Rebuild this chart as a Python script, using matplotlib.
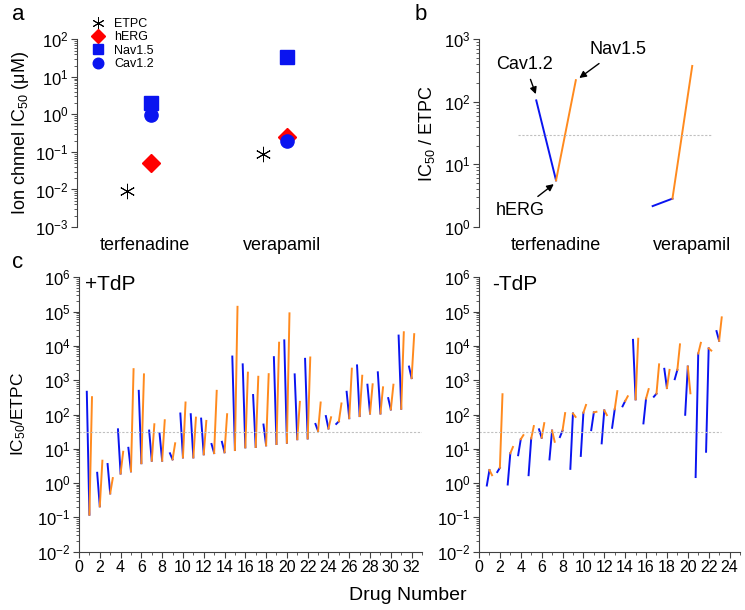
import numpy as np
import matplotlib
matplotlib.use("Agg")
import matplotlib.pyplot as plt
from matplotlib.ticker import LogLocator, MultipleLocator, NullFormatter

plt.rcParams['font.family'] = ['Liberation Sans', 'DejaVu Sans']
plt.rcParams['mathtext.fontset'] = 'custom'
plt.rcParams['mathtext.rm'] = 'Liberation Sans'
plt.rcParams['mathtext.it'] = 'Liberation Sans:italic'
plt.rcParams['mathtext.bf'] = 'Liberation Sans:bold'
plt.rcParams['mathtext.default'] = 'regular'

# panel a: IC50 (uM) of the two example drugs
drugs = ["terfenadine", "verapamil"]
etpc = [0.009, 0.088]
herg = [0.05, 0.25]
nav15 = [2.0, 33]
cav12 = [0.95, 0.19]

# panel c: IC50/ETPC for each drug, +TdP group
pos_cav = [460, 2.0, 3.6, 37, 10.7, 490, 34, 28, 7.4, 107, 102, 76, 13.8, 16, 4900, 2900,
           370, 51, 4700, 14500, 1480, 4200, 53, 90, 53, 460, 2700, 740, 1700, 300, 20000, 2500]
pos_herg = [0.12, 0.21, 0.5, 1.9, 2.2, 3.8, 4.5, 4.5, 4.9, 5.6, 5.6, 6.9, 7.5, 7.9, 9.2, 11,
            11.3, 12.6, 13.8, 15, 19, 20, 33, 39, 63, 78, 90, 107, 107, 140, 147, 1150]
pos_nav = [320, 4.5, 1.4, 8.2, 2100, 1480, 52, 68, 14.5, 224, 81, 65, 490, 102, 138000, 1660,
           1260, 1500, 12400, 89000, 234, 4600, 224, 83, 210, 2170, 1350, 760, 620, 740, 25000, 22000]

# -TdP group
neg_cav = [0.85, 2.1, 0.91, 6.5, 1.7, 37, 4.9, 22, 2.6, 6.2, 35, 14.4, 41, 173, 15000, 55,
           330, 2150, 1070, 98, 1.5, 8.2, 27000]
neg_herg = [2.4, 2.8, 7.4, 19, 20, 21, 34, 34, 107, 113, 115, 132, 142, 246, 276, 290,
            405, 590, 2000, 2500, 6000, 8500, 14100]
neg_nav = [1.7, 390, 11.3, 25, 46, 56, 16, 110, 85, 190, 120, 96, 480, 340, 16200, 550,
           2900, 2000, 11100, 415, 12300, 7300, 68000]

threshold = 30

blue = '#0a14f0'
orange = '#ff8a1e'
spine_col = '#404040'

W, H = 745, 610
fig = plt.figure(figsize=(7.45, 6.1), dpi=100)


def box(l, t, r, b):
    return [l / W, 1 - b / H, (r - l) / W, (b - t) / H]


def style_log(ax, bottom_spine=False):
    for s in ['top', 'right']:
        ax.spines[s].set_visible(False)
    ax.spines['left'].set_color(spine_col)
    if not bottom_spine:
        ax.spines['bottom'].set_visible(False)
    else:
        ax.spines['bottom'].set_color(spine_col)
    ax.set_yscale('log')
    ax.yaxis.set_major_locator(LogLocator(base=10, numticks=20))
    ax.yaxis.set_minor_locator(LogLocator(base=10, subs=np.arange(2, 10), numticks=20))
    ax.yaxis.set_minor_formatter(NullFormatter())
    ax.tick_params(axis='y', which='major', length=4, width=0.8, color=spine_col, labelsize=12, pad=2)
    ax.tick_params(axis='y', which='minor', length=2.5, width=0.6, color=spine_col)


# ---- panel a
ax_a = fig.add_axes(box(77, 39.3, 342, 227))
style_log(ax_a)
x = np.arange(1, len(drugs) + 1)
ax_a.plot(x - 0.175, etpc, ls='none', marker=(6, 2, 0), ms=11, mec='black', mew=0.7, label='ETPC')
ax_a.plot(x, herg, ls='none', marker='D', ms=9, color='#ff0000', label='hERG')
ax_a.plot(x, nav15, ls='none', marker='s', ms=9.5, color=blue, label='Nav1.5')
ax_a.plot(x, cav12, ls='none', marker='o', ms=9.5, color=blue, label='Cav1.2')
ax_a.set_ylim(1e-3, 1e2)
ax_a.set_xlim(0.46, 2.4)
ax_a.set_xticks(x - 0.04)
ax_a.set_xticklabels(drugs, fontsize=13)
ax_a.tick_params(axis='x', length=0, pad=7)
ax_a.set_ylabel('Ion chnnel IC$_{50}$ (μM)', fontsize=13)
ax_a.yaxis.set_label_coords(-0.175, 0.5)
ax_a.legend(loc='upper left', bbox_to_anchor=(83 / W, 1 - 12 / H), bbox_transform=fig.transFigure,
            frameon=False, fontsize=9, borderpad=0, handlelength=1.4, handletextpad=0.6,
            labelspacing=0.1, numpoints=1, markerscale=0.8)

# ---- panel b: IC50 / ETPC for the same drugs
off = 0.17
ax_b = fig.add_axes(box(479, 39.3, 719, 227))
style_log(ax_b)
for i in range(len(drugs)):
    r_cav = cav12[i] / etpc[i]
    r_herg = herg[i] / etpc[i]
    r_nav = nav15[i] / etpc[i]
    ax_b.plot([x[i] - off, x[i]], [r_cav, r_herg], color=blue, lw=1.4)
    ax_b.plot([x[i], x[i] + off], [r_herg, r_nav], color=orange, lw=1.4)
ax_b.plot([0.67, 2.34], [threshold, threshold], color='#c0c0c0', lw=0.8, ls=(0, (2, 1.5)))
ax_b.set_ylim(1, 1e3)
ax_b.set_xlim(0.338, 2.4)
ax_b.set_xticks([x[0], x[1] + off])
ax_b.set_xticklabels(drugs, fontsize=13)
ax_b.tick_params(axis='x', length=0, pad=7)
ax_b.set_ylabel('IC$_{50}$ / ETPC', fontsize=13)
ax_b.yaxis.set_label_coords(-0.175, 0.5)

arrow = dict(arrowstyle='-|>', color='black', lw=1, shrinkA=3, shrinkB=1, mutation_scale=10)
ax_b.annotate('Cav1.2', xy=(x[0] - off, cav12[0] / etpc[0] * 1.2), xytext=(0.733, 400),
              ha='center', va='center', fontsize=13, arrowprops=arrow)
ax_b.annotate('Nav1.5', xy=(x[0] + off + 0.02, nav15[0] / etpc[0] * 1.05), xytext=(1.53, 680),
              ha='center', va='center', fontsize=13, arrowprops=arrow)
ax_b.annotate('hERG', xy=(x[0] - 0.01, herg[0] / etpc[0] * 0.9), xytext=(0.69, 1.85),
              ha='center', va='center', fontsize=13, arrowprops=arrow)

# ---- panel c
def draw_ratios(ax, cav, hrg, nav, xmax, line_end, tag):
    style_log(ax, bottom_spine=True)
    n = np.arange(1, len(hrg) + 1)
    for i in range(len(hrg)):
        ax.plot([n[i] - 0.25, n[i]], [cav[i], hrg[i]], color=blue, lw=1.4)
        ax.plot([n[i], n[i] + 0.25], [hrg[i], nav[i]], color=orange, lw=1.4)
    ax.plot([0, line_end], [threshold, threshold], color='#c0c0c0', lw=0.8, ls=(0, (2, 1.5)))
    ax.set_ylim(1e-2, 1e6)
    ax.set_xlim(0, xmax)
    ax.xaxis.set_major_locator(MultipleLocator(2))
    ax.xaxis.set_minor_locator(MultipleLocator(1))
    ax.tick_params(axis='x', which='major', length=4, width=0.8, color=spine_col, labelsize=11.5, pad=2)
    ax.tick_params(axis='x', which='minor', length=2.5, width=0.6, color=spine_col)
    ax.text(0.018 if tag == '+TdP' else 0.05, 0.972, tag, transform=ax.transAxes,
            fontsize=15, ha='left', va='center')


ax_c1 = fig.add_axes(box(79, 277.3, 422, 551.7))
draw_ratios(ax_c1, pos_cav, pos_herg, pos_nav, 33, 33, '+TdP')
ax_c1.set_ylabel('IC$_{50}$/ETPC', fontsize=12.5)
ax_c1.yaxis.set_label_coords(-0.149, 0.5)

ax_c2 = fig.add_axes(box(479, 277.3, 740, 551.7))
draw_ratios(ax_c2, neg_cav, neg_herg, neg_nav, 25, 23.2, '-TdP')

fig.text(408 / W, 1 - 596 / H, 'Drug Number', fontsize=14, ha='center', va='center')

fig.text(18 / W, 1 - 15 / H, 'a', fontsize=16, ha='center', va='center')
fig.text(421 / W, 1 - 15 / H, 'b', fontsize=16, ha='center', va='center')
fig.text(18 / W, 1 - 263 / H, 'c', fontsize=16, ha='center', va='center')

fig.savefig('out.png', dpi=100)
